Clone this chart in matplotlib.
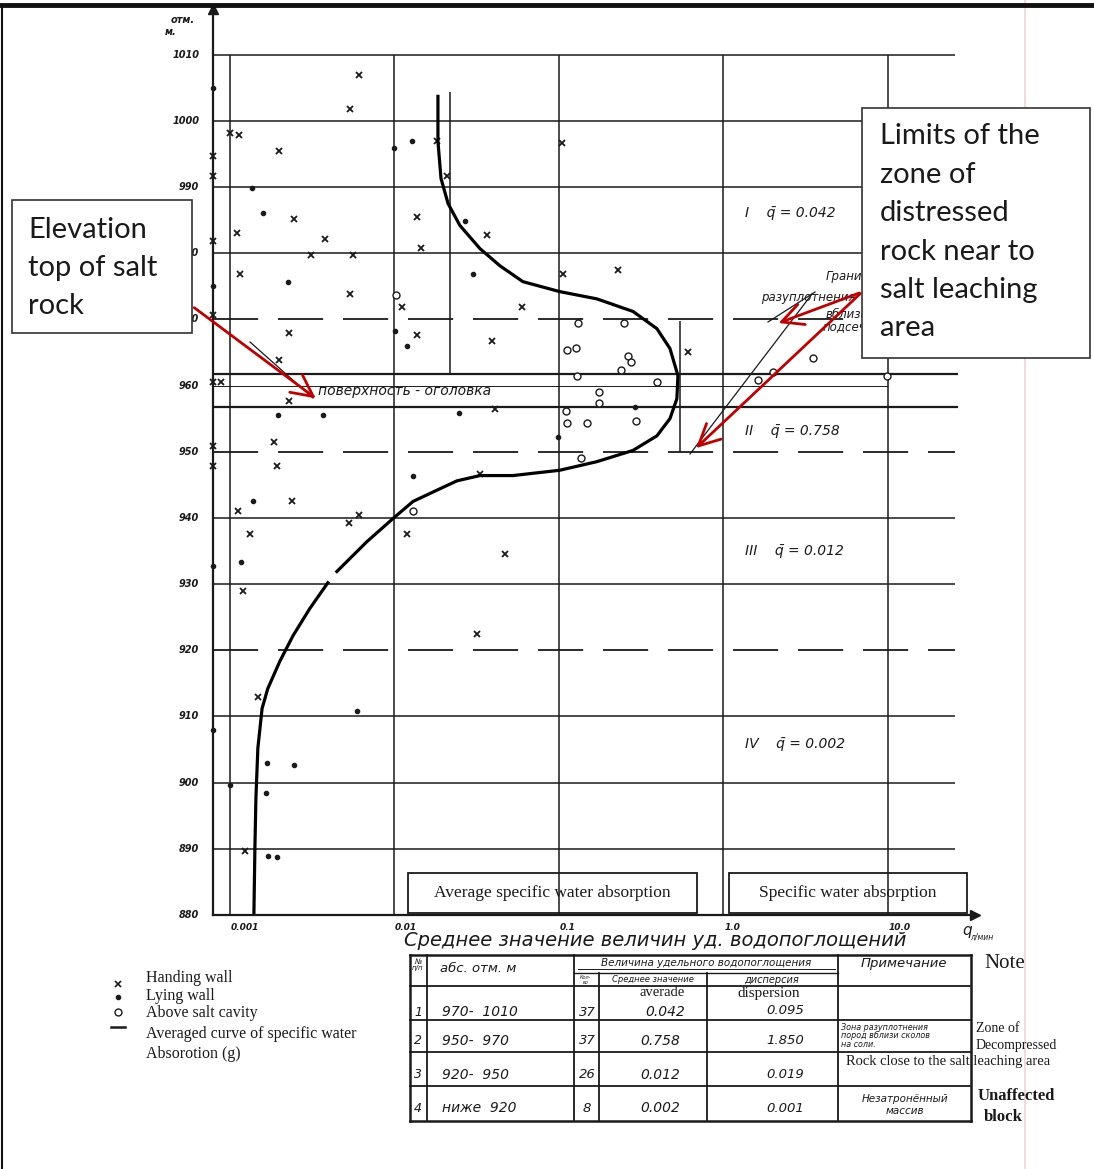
import matplotlib.pyplot as plt
from matplotlib.lines import Line2D
from matplotlib.patches import Rectangle, FancyArrowPatch
from matplotlib.ticker import NullLocator

W, H = 1094, 1169

# axis ranges: q (l/min, log) against absolute elevation (m)
Q_MIN, Q_MAX = 0.00079, 33.8
Z_MIN, Z_MAX = 880, 1016.9
GRID_END = 25.5

elev_ticks = list(range(880, 1011, 10))
solid_levels = [1010, 1000, 990, 980, 940, 930, 910, 900, 890]
dashed_levels = [970, 950, 920]
salt_top_levels = [961.7, 956.8]
q_ticks = [0.001, 0.01, 0.1, 1.0, 10.0]
q_tick_labels = ["0.001", "0.01", "0.1", "1.0", "10.0"]

# hanging wall samples
hang_q = [0.0061, 0.0054, 0.0010, 0.00113, 0.0020, 0.104, 0.0208, 0.0181, 0.00245,
          0.0137, 0.0011, 0.0038, 0.0145, 0.0365, 0.0031, 0.0056, 0.00115, 0.0054,
          0.106, 0.0111, 0.0596, 0.0023, 0.0137, 0.039, 0.228, 0.608, 0.041, 0.033,
          0.00185, 0.00193, 0.00112, 0.00238, 0.00132, 0.0053, 0.0061, 0.0119, 0.047,
          0.0012, 0.0317, 0.00148, 0.00123, 0.0023, 0.0020, 0.00079, 0.00079, 0.00079,
          0.00079, 0.00079, 0.00088, 0.00079, 0.00079]
hang_z = [1007.0, 1001.8, 998.1, 997.9, 995.5, 996.7, 991.7, 996.9, 985.2,
          985.5, 983.0, 982.1, 980.8, 982.8, 979.8, 979.8, 976.8, 973.9,
          976.8, 971.9, 971.8, 967.9, 967.7, 966.8, 977.5, 965.0, 956.5, 946.7,
          951.4, 947.9, 941.0, 942.5, 937.5, 939.3, 940.5, 937.5, 934.6,
          929.0, 922.5, 912.9, 889.6, 957.7, 963.8, 994.7, 991.7, 981.9,
          970.6, 960.6, 960.6, 950.9, 947.8]

# lying wall samples
lying_q = [0.00079, 0.00136, 0.00159, 0.0099, 0.0128, 0.0268, 0.030, 0.00225, 0.00079,
           0.0101, 0.0119, 0.0247, 0.29, 0.0986, 0.013, 0.00138, 0.00117, 0.00079,
           0.0059, 0.00079, 0.00168, 0.00245, 0.00166, 0.0017, 0.00193, 0.001,
           0.00196, 0.00367]
lying_z = [1004.9, 989.9, 986.1, 995.9, 996.9, 984.9, 976.8, 975.7, 975.0,
           968.2, 966.0, 955.8, 956.8, 952.3, 946.4, 942.6, 933.4, 932.8,
           910.8, 907.9, 903.0, 902.6, 898.5, 888.9, 888.7, 899.7,
           955.5, 955.6]

# samples above the salt cavity
cavity_q = [0.0103, 0.1305, 0.248, 0.112, 0.127, 0.263, 0.274, 0.238, 0.129, 0.394,
            0.175, 0.175, 0.110, 0.112, 0.148, 0.294, 0.136, 0.013, 9.86, 3.5, 2.0, 1.62]
cavity_z = [973.7, 969.4, 969.5, 965.3, 965.7, 964.5, 963.6, 962.4, 961.4, 960.6,
            959.1, 957.4, 956.2, 954.4, 954.4, 954.6, 949.1, 941.0, 961.5, 964.2, 962.1, 960.8]

# averaged curve of specific water absorption (two traced pieces)
curve_up_q = [0.0184, 0.0184, 0.0192, 0.0212, 0.025, 0.0331, 0.0438, 0.0604, 0.101,
              0.170, 0.282, 0.394, 0.473, 0.529, 0.521, 0.473, 0.394, 0.282, 0.170,
              0.101, 0.0525, 0.0331, 0.024, 0.0189, 0.013, 0.0098, 0.0068, 0.00447]
curve_up_z = [1003.7, 996.9, 991.3, 987.5, 984.2, 980.7, 978.1, 975.7, 974.2,
              973.1, 971.2, 968.6, 965.6, 961.5, 958.0, 955.0, 952.4, 950.2, 948.5,
              947.2, 946.4, 946.4, 945.6, 944.4, 942.5, 939.9, 936.4, 931.9]
curve_lo_q = [0.00394, 0.00306, 0.00242, 0.00201, 0.0017, 0.00157, 0.00148, 0.00144,
              0.00142, 0.0014]
curve_lo_z = [930.2, 926.3, 922.2, 918.3, 914.2, 911.2, 905.2, 897.6, 890.1, 880.0]

# vertical markers bounding zones I and II
mark_q = [0.0219, 0.544]
mark_top = [1004.4, 969.8]
mark_bot = [961.7, 950.0]

zone_names = ["I", "II", "III", "IV"]
zone_qbar = ["0.042", "0.758", "0.012", "0.002"]
zone_label_z = [986.0, 953.2, 935.0, 905.9]

# summary table
tab_no = ["1", "2", "3", "4"]
tab_range = ["970-  1010", "950-  970", "920-  950", "ниже  920"]
tab_count = ["37", "37", "26", "8"]
tab_mean = ["0.042", "0.758", "0.012", "0.002"]
tab_disp = ["0.095", "1.850", "0.019", "0.001"]

HAND = dict(family="DejaVu Sans", style="italic")
SERIF = "Liberation Serif"
CALLOUT = "Lato"
INK = "#1a1a1a"

fig = plt.figure(figsize=(W / 100, H / 100), dpi=100)


def fp(x, y):
    return (x / W, 1 - y / H)


def fline(xs, ys, **kw):
    kw.setdefault("color", INK)
    kw.setdefault("lw", 1.2)
    fig.add_artist(Line2D([x / W for x in xs], [1 - y / H for y in ys],
                          transform=fig.transFigure, **kw))


def ftext(x, y, s, **kw):
    kw.setdefault("va", "center")
    kw.setdefault("color", INK)
    fig.text(x / W, 1 - y / H, s, **kw)


def fbox(x0, y0, x1, y1, **kw):
    fig.add_artist(Rectangle(fp(x0, y1), (x1 - x0) / W, (y1 - y0) / H,
                             transform=fig.transFigure, **kw))


def farrow(x0, y0, x1, y1, color="#c00000", lw=2.0):
    fig.add_artist(FancyArrowPatch(fp(x0, y0), fp(x1, y1), transform=fig.transFigure,
                                   arrowstyle="->,head_length=0.7,head_width=0.35",
                                   mutation_scale=22, color=color, lw=lw, zorder=6))


# ---- main diagram ----
ax = fig.add_axes([213 / W, 1 - 915 / H, 762 / W, 906 / H])
ax.set_xscale("log")
ax.set_xlim(Q_MIN, Q_MAX)
ax.set_ylim(Z_MIN, Z_MAX)
for s in ("top", "right"):
    ax.spines[s].set_visible(False)
for s in ("left", "bottom"):
    ax.spines[s].set_linewidth(1.6)
    ax.spines[s].set_color(INK)
ax.set_xticks([])
ax.set_yticks([])
ax.xaxis.set_minor_locator(NullLocator())
ax.yaxis.set_minor_locator(NullLocator())
ax.plot([Q_MIN], [Z_MAX], marker="^", ms=7, color=INK, clip_on=False)
ax.plot([Q_MAX], [Z_MIN], marker=">", ms=7, color=INK, clip_on=False)

ax.hlines(solid_levels, Q_MIN, GRID_END, color=INK, lw=1.1)
ax.hlines(dashed_levels, Q_MIN, GRID_END, color=INK, lw=1.3, linestyles=[(0, (25, 11))])
ax.hlines(salt_top_levels, Q_MIN, 26.6, color=INK, lw=1.6)
ax.hlines([960], Q_MIN, 10.0, color=INK, lw=0.7)
ax.vlines(q_ticks, Z_MIN, 1010, color=INK, lw=1.1)
ax.vlines(mark_q, mark_bot, mark_top, color=INK, lw=1.1)

ytr = ax.get_yaxis_transform()
for z in elev_ticks:
    ax.text(-0.018, z, str(z), transform=ytr, ha="right", va="center",
            fontsize=7, fontweight="bold", color=INK, **HAND)
xtr = ax.get_xaxis_transform()
for q, lab in zip(q_ticks, q_tick_labels):
    ax.text(q * 1.01, -0.014, lab, transform=xtr, ha="left", va="center",
            fontsize=6.5, fontweight="bold", color=INK, clip_on=False, **HAND)

ax.plot(hang_q, hang_z, linestyle="none", marker="x", ms=5, mew=1.3, color=INK,
        clip_on=False)
ax.plot(lying_q, lying_z, linestyle="none", marker="o", ms=3, color=INK, clip_on=False)
ax.plot(cavity_q, cavity_z, linestyle="none", marker="o", ms=5, mfc="white", mew=1.0,
        color=INK, clip_on=False, zorder=3)
ax.plot(curve_up_q, curve_up_z, color="black", lw=2.3, solid_joinstyle="round")
ax.plot(curve_lo_q, curve_lo_z, color="black", lw=2.3, solid_joinstyle="round")

for name, qb, z in zip(zone_names, zone_qbar, zone_label_z):
    ax.text(1.35, z, f"{name}    q\u0304 = {qb}", fontsize=10, va="center", color=INK, **HAND)

ax.text(0.00342, 959.2, "поверхность - оголовка", fontsize=10, va="center", color=INK, **HAND)
ax.text(4.2, 976.5, "Граница", fontsize=8.5, va="center", color=INK, **HAND)
ax.text(1.7, 973.3, "разуплотнения", fontsize=8.5, va="center", color=INK, **HAND)
ax.text(4.2, 970.8, "вблизи", fontsize=8.5, va="center", color=INK, **HAND)
ax.text(4.0, 968.9, "подсечки", fontsize=8.5, va="center", color=INK, **HAND)

ax.text(-0.056, 0.988, "отм.", transform=ax.transAxes, fontsize=7, fontweight="bold",
        ha="left", va="center", color=INK, **HAND)
ax.text(-0.063, 0.975, "м.", transform=ax.transAxes, fontsize=7, fontweight="bold",
        ha="left", va="center", color=INK, **HAND)

# original pencil leaders under the callout arrows
fline([250, 313], [342, 398], lw=0.9)
fline([815, 768], [292, 322], lw=0.9)
fline([812, 690], [294, 454], lw=0.9)

ftext(962, 930, "q", fontsize=11, **HAND)
ftext(970, 937, "л/мин", fontsize=5.5, **HAND)

# ---- callout boxes ----
fbox(12, 200, 192, 333, facecolor="white", edgecolor="#333333", lw=1.2, zorder=5)
for y, s in zip([230, 268, 306], ["Elevation", "top of salt", "rock"]):
    ftext(28, y, s, fontsize=21, family=CALLOUT, zorder=7)
fbox(862, 108, 1090, 358, facecolor="white", edgecolor="#333333", lw=1.2, zorder=5)
for y, s in zip([136, 175, 213, 252, 290, 328],
                ["Limits of the", "zone of", "distressed", "rock near to",
                 "salt leaching", "area"]):
    ftext(880, y, s, fontsize=21, family=CALLOUT, zorder=7)

farrow(192, 306, 318, 400)
farrow(862, 292, 776, 324)
farrow(862, 292, 694, 450)

fbox(408, 873, 697, 913, facecolor="none", edgecolor=INK, lw=1.3, zorder=5)
ftext(552, 893, "Average specific water absorption", fontsize=12.5, family=SERIF, ha="center")
fbox(729, 873, 967, 913, facecolor="none", edgecolor=INK, lw=1.3, zorder=5)
ftext(848, 893, "Specific water absorption", fontsize=12.5, family=SERIF, ha="center")

# ---- legend ----
fline([118], [984], marker="x", ms=5, mew=1.2, linestyle="none")
fline([118], [997], marker="o", ms=3, linestyle="none")
fline([118], [1012], marker="o", ms=5, mfc="white", mew=1.0, linestyle="none")
fline([111, 125], [1027, 1027], lw=1.8)
for y, s in zip([978, 996, 1013, 1034, 1054],
                ["Handing wall", "Lying wall", "Above salt cavity",
                 "Averaged curve of specific water", "Absorotion (g)"]):
    ftext(146, y, s, fontsize=11.5, family=SERIF)

# ---- summary table ----
ftext(404, 940, "Среднее значение величин уд. водопоглощений", fontsize=14, **HAND)

cols = [410, 427, 574, 599, 707, 838, 971]
rows = [955, 986, 1020, 1052, 1086, 1121]
fline([cols[0], cols[-1]], [rows[0], rows[0]], lw=1.8)
fline([cols[0], cols[-1]], [rows[-1], rows[-1]], lw=1.8)
for y in rows[1:-1]:
    fline([cols[0], cols[-1]], [y, y], lw=1.3)
fline([cols[2], cols[5]], [973, 973], lw=1.0)
fline([cols[0], cols[0]], [rows[0], rows[-1]], lw=1.8)
fline([cols[-1], cols[-1]], [rows[0], rows[-1]], lw=1.8)
for x in (cols[1], cols[2], cols[5]):
    fline([x, x], [rows[0], rows[-1]], lw=1.3)
for x in (cols[3], cols[4]):
    fline([x, x], [973, rows[-1]], lw=1.3)

ftext(418, 965, "№\nп/п", fontsize=5, ha="center", linespacing=0.9, **HAND)
ftext(440, 968, "абс. отм. м", fontsize=9.5, **HAND)
ftext(706, 963, "Величина удельного водопоглощения", fontsize=7.5, ha="center", **HAND)
fline([578, 835], [969, 969], lw=0.7)
ftext(586, 980, "Кол-\nво", fontsize=3.5, ha="center", linespacing=0.8, **HAND)
ftext(653, 980, "Среднее значение", fontsize=6, ha="center", **HAND)
ftext(772, 980, "дисперсия", fontsize=7, ha="center", **HAND)
ftext(904, 963, "Примечание", fontsize=9.5, ha="center", **HAND)
ftext(984, 963, "Note", fontsize=15, family=SERIF)

row_y = [1012, 1041, 1075, 1108]
for i, y in enumerate(row_y):
    ftext(418, y, tab_no[i], fontsize=9, ha="center", **HAND)
    ftext(442, y, tab_range[i], fontsize=10, **HAND)
    ftext(587, y, tab_count[i], fontsize=9.5, ha="center", **HAND)
    ftext(665 if i == 0 else 660, y, tab_mean[i], fontsize=10, ha="center", **HAND)
    ftext(785, y - (2 if i == 0 else 0), tab_disp[i], fontsize=9.5, ha="center", **HAND)

ftext(662, 993, "averade", fontsize=10.5, family=SERIF, ha="center")
ftext(769, 993, "dispersion", fontsize=11, family=SERIF, ha="center")
ftext(841, 1036, "Зона разуплотнения\nпород вблизи сколов\nна соли.", fontsize=5.8,
      linespacing=0.95, **HAND)
ftext(976, 1028, "Zone of", fontsize=10, family=SERIF)
ftext(976, 1045, "Decompressed", fontsize=10, family=SERIF)
ftext(846, 1062, "Rock close to the salt leaching area", fontsize=10.5, family=SERIF)
ftext(905, 1105, "Незатронённый\nмассив", fontsize=7.5, ha="center", linespacing=1.3, **HAND)
ftext(978, 1096, "Unaffected", fontsize=12, family=SERIF, fontweight="bold")
ftext(984, 1117, "block", fontsize=12, family=SERIF, fontweight="bold")

# page frame and sheet edge
fline([1025, 1025], [0, H], color="#f2d4d4", lw=1.2)
fline([0, W], [5, 5], lw=3.5, color="#111111")
fline([2, 2], [5, H], lw=1.5, color="#111111")

fig.savefig("out.png", dpi=100, facecolor="white")
